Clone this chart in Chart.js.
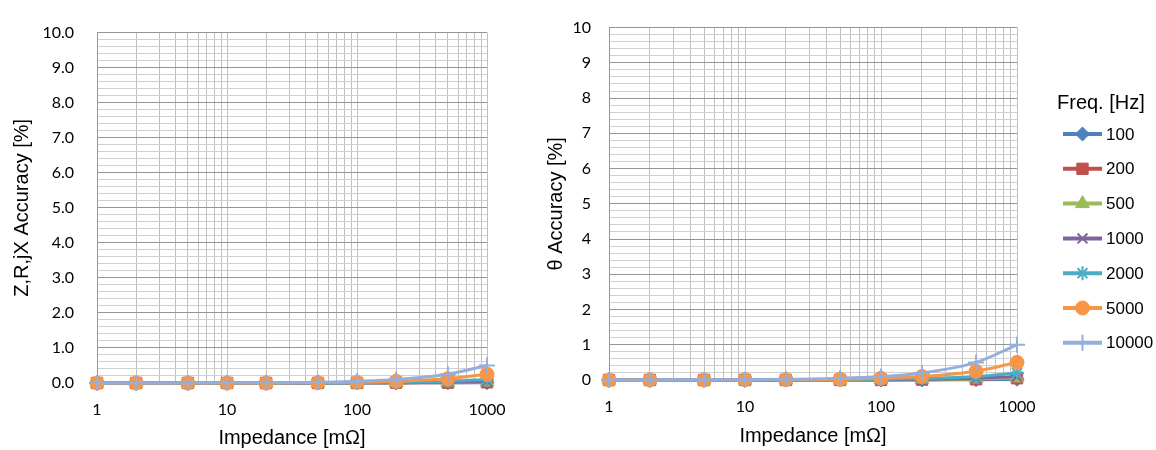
<!DOCTYPE html>
<html>
<head>
<meta charset="utf-8">
<script src="https://cdn.jsdelivr.net/npm/chart.js@4/dist/chart.umd.min.js"></script>
<style>
  body { margin: 0; background: #fff; }
  #left { position: absolute; left: 0; top: 0; width: 540px; height: 450px; }
  #right { position: absolute; left: 540px; top: 0; width: 616px; height: 450px; }
</style>
</head>
<body>
<div id="left"><canvas id="zChart"></canvas></div>
<div id="right"><canvas id="thetaChart"></canvas></div>
<script>
// impedance points [mOhm]
const impedance = [1, 2, 5, 10, 20, 50, 100, 200, 500, 1000];
const freqLabels = ['100', '200', '500', '1000', '2000', '5000', '10000'];
const xTickLabels = [1, 10, 100, 1000];

// Z,R,jX accuracy [%]
const z100   = [0, 0, 0, 0, 0, 0, 0, 0, 0.01, 0.01];
const z200   = [0, 0, 0, 0, 0, 0, 0, 0.01, 0.01, 0.02];
const z500   = [0, 0, 0, 0, 0, 0, 0, 0.01, 0.02, 0.03];
const z1000  = [0, 0, 0, 0, 0, 0, 0.01, 0.01, 0.03, 0.05];
const z2000  = [0, 0, 0, 0, 0, 0, 0.01, 0.02, 0.05, 0.1];
const z5000  = [0, 0, 0, 0, 0, 0.01, 0.02, 0.05, 0.12, 0.25];
const z10000 = [0, 0, 0, 0.01, 0.01, 0.02, 0.05, 0.1, 0.25, 0.5];

// theta accuracy [%]
const t100   = [0, 0, 0, 0, 0, 0, 0, 0, 0.01, 0.02];
const t200   = [0, 0, 0, 0, 0, 0, 0, 0.01, 0.02, 0.05];
const t500   = [0, 0, 0, 0, 0, 0, 0.01, 0.01, 0.03, 0.06];
const t1000  = [0, 0, 0, 0, 0, 0.01, 0.01, 0.02, 0.05, 0.1];
const t2000  = [0, 0, 0, 0, 0.01, 0.01, 0.02, 0.04, 0.1, 0.2];
const t5000  = [0, 0, 0, 0.01, 0.01, 0.02, 0.05, 0.1, 0.25, 0.5];
const t10000 = [0, 0, 0.01, 0.01, 0.02, 0.05, 0.1, 0.2, 0.5, 1.0];

const colors = ['#4F81BD', '#C0504D', '#9BBB59', '#8064A2', '#4BACC6', '#F79646', '#95AEDA'];
const markers = ['rectRot', 'rect', 'triangle', 'crossRot', 'star', 'circle', 'cross'];
const radii = [7, 8, 8, 7, 7, 7, 8];

function makeDatasets(series) {
    return series.map((vals, i) => {
        const line = markers[i] === 'crossRot' || markers[i] === 'star' || markers[i] === 'cross';
        return {
            label: freqLabels[i],
            data: vals.map((v, j) => ({ x: impedance[j], y: v })),
            borderColor: colors[i],
            backgroundColor: colors[i],
            borderWidth: 3,
            pointStyle: markers[i],
            pointRadius: radii[i],
            pointBorderWidth: line ? 2 : 1,
            pointBorderColor: colors[i],
            pointBackgroundColor: colors[i],
            cubicInterpolationMode: 'monotone',
            clip: false,
            order: series.length - i
        };
    });
}

const titleFont = { family: 'Liberation Sans, Arial', size: 20 };
const tickFont = { family: 'Lato', size: 16 };

function isWhole(v) {
    return Math.abs(v - Math.round(v)) < 1e-6;
}

function makeOptions(cfg) {
    return {
        responsive: true,
        maintainAspectRatio: false,
        animation: false,
        layout: { padding: cfg.padding },
        plugins: { legend: { display: false }, tooltip: { enabled: false } },
        scales: {
            x: {
                type: 'logarithmic',
                min: 1,
                max: 1000,
                afterFit: s => { s.height = cfg.xHeight; },
                afterBuildTicks: s => {
                    const t = [];
                    [1, 10, 100].forEach(d => {
                        for (let k = 1; k < 10; k++) t.push({ value: d * k });
                    });
                    t.push({ value: 1000 });
                    s.ticks = t;
                },
                ticks: {
                    autoSkip: false,
                    maxRotation: 0,
                    padding: cfg.xPad,
                    color: '#000',
                    font: tickFont,
                    callback: v => xTickLabels.includes(v) ? String(v) : ''
                },
                grid: { color: '#c0c0c0', lineWidth: 1, drawTicks: false },
                border: { color: '#c0c0c0' },
                title: {
                    display: true,
                    text: 'Impedance [mΩ]',
                    color: '#000',
                    font: titleFont,
                    padding: { top: 0, bottom: cfg.xTitlePad }
                }
            },
            y: {
                min: 0,
                max: 10,
                afterFit: s => { s.width = cfg.yWidth; },
                ticks: {
                    stepSize: 0.2,
                    autoSkip: false,
                    padding: cfg.yPad,
                    color: '#000',
                    font: tickFont,
                    callback: v => isWhole(v) ? (cfg.decimals ? Math.round(v).toFixed(1) : String(Math.round(v))) : ''
                },
                grid: {
                    drawTicks: false,
                    color: c => isWhole(c.tick.value) ? '#959595' : '#d0d0d0',
                    lineWidth: 1
                },
                border: { color: '#959595' },
                title: {
                    display: true,
                    text: cfg.yTitle,
                    color: '#000',
                    font: titleFont,
                    padding: { top: cfg.yTitlePad, bottom: 0 }
                }
            }
        }
    };
}

// legend with line + marker, like the spreadsheet legend
const freqLegend = {
    id: 'freqLegend',
    afterDraw(chart) {
        const ctx = chart.ctx;
        const x0 = chart.chartArea.right + 46;
        ctx.save();
        ctx.fillStyle = '#000';
        ctx.textBaseline = 'middle';
        ctx.font = '20px "Liberation Sans", Arial';
        ctx.textAlign = 'left';
        ctx.fillText('Freq. [Hz]', x0 - 6, 103);
        ctx.font = '17px "Liberation Sans", Arial';
        chart.data.datasets.forEach((ds, i) => {
            const y = 134 + i * 34.8;
            ctx.strokeStyle = ds.borderColor;
            ctx.lineWidth = 4;
            ctx.beginPath();
            ctx.moveTo(x0, y);
            ctx.lineTo(x0 + 39, y);
            ctx.stroke();
            ctx.fillStyle = ds.borderColor;
            ctx.lineWidth = ds.pointBorderWidth;
            Chart.helpers.drawPoint(ctx, { pointStyle: ds.pointStyle, radius: ds.pointRadius, borderWidth: ds.pointBorderWidth, rotation: 0 }, x0 + 19.5, y);
            ctx.fillStyle = '#000';
            ctx.fillText(ds.label, x0 + 43, y + 1);
        });
        ctx.restore();
    }
};

new Chart(document.getElementById('zChart'), {
    type: 'line',
    data: { datasets: makeDatasets([z100, z200, z500, z1000, z2000, z5000, z10000]) },
    options: makeOptions({
        padding: { left: 0, right: 53, top: 23, bottom: 0 },
        xHeight: 67, xPad: 17, xTitlePad: 0,
        yWidth: 97, yPad: 23, yTitlePad: 10,
        yTitle: 'Z,R,jX Accuracy [%]', decimals: true
    })
});

new Chart(document.getElementById('thetaChart'), {
    type: 'line',
    data: { datasets: makeDatasets([t100, t200, t500, t1000, t2000, t5000, t10000]) },
    options: makeOptions({
        padding: { left: 0, right: 139, top: 23, bottom: 0 },
        xHeight: 70, xPad: 17, xTitlePad: 2,
        yWidth: 69, yPad: 18, yTitlePad: 4,
        yTitle: 'θ Accuracy [%]', decimals: false
    }),
    plugins: [freqLegend]
});
</script>
</body>
</html>
